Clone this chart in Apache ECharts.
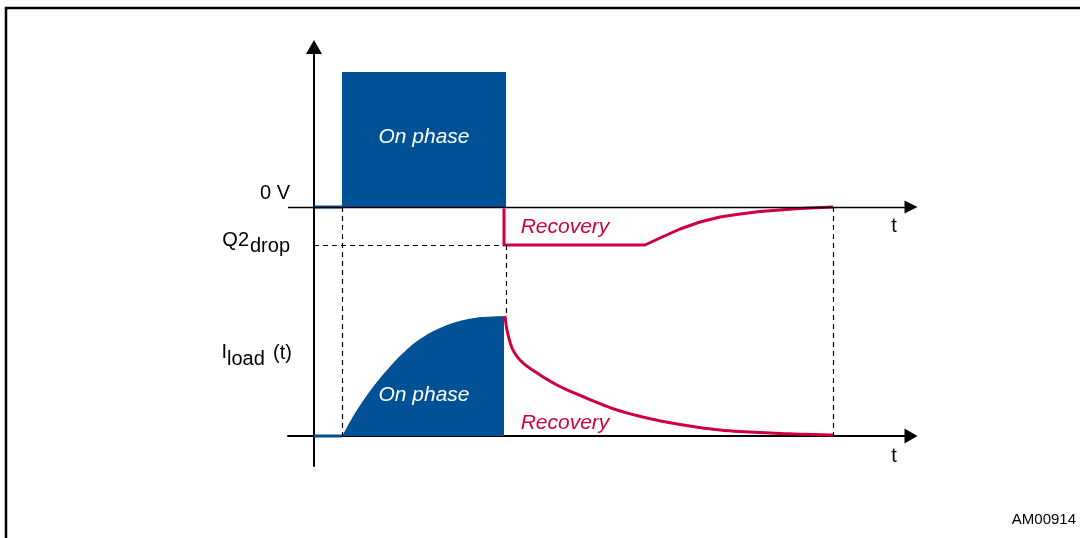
<!DOCTYPE html>
<html>
<head>
<meta charset="utf-8">
<script src="https://cdn.jsdelivr.net/npm/echarts@6/dist/echarts.min.js"></script>
<style>
  html, body { margin: 0; padding: 0; background: #fff; }
  #chart { width: 1080px; height: 538px; }
</style>
</head>
<body>
<div id="chart"></div>
<script>
// time markers, same time units for both traces
const onStart = 2.8
const onEnd = 19.2
const recoveryEnd = 51.9
const idleTime = [0, onStart]

// upper trace: Q2 voltage, relative to 0 V
const pulseHeight = 13.5
const q2Drop = -3.8
const q2Time = [19.0, 19.0, 33.1, 34.6, 36.6, 38.6, 40.6, 42.6, 44.6, 46.6, 48.6, 51.9]
const q2Volt = [-0.15, -3.8, -3.8, -3.1, -2.2, -1.5, -1.0, -0.7, -0.45, -0.3, -0.15, 0]

// lower trace: load current
const onTime = [2.8, 4.3, 5.9, 7.3, 8.8, 10.6, 13.3, 16.0, 19.0]
const onLoad = [0, 2.6, 4.9, 6.6, 8.2, 9.7, 11.1, 11.8, 12.0]
const recTime = [19.1, 19.3, 19.9, 20.8, 22.3, 24.5, 27.0, 30.0, 33.3, 36.6, 40.6, 46.6, 51.9]
const recLoad = [12.0, 10.6, 8.6, 7.4, 6.3, 5.0, 3.9, 2.7, 1.8, 1.15, 0.6, 0.25, 0.1]

const X_MIN = -2.6
const X_MAX = 59.7
const VOLT_LANE = 22.9 // where the 0 V line of the upper trace sits
const BLUE = '#005196'
const RED = '#d0003c'
const FONT = '"Liberation Sans", Arial, Helvetica, sans-serif'

const lane = (v) => v + VOLT_LANE
const pairs = (xs, ys, off = 0) => xs.map((x, i) => [x, ys[i] + off])

// centripetal catmull-rom through pixel points, so the curves stay round
function spline(pts, steps = 12) {
  const dist = (a, b) => Math.hypot(b[0] - a[0], b[1] - a[1]) || 1e-6
  const mix = (a, b, ta, tb, t) => [
    (a[0] * (tb - t) + b[0] * (t - ta)) / (tb - ta),
    (a[1] * (tb - t) + b[1] * (t - ta)) / (tb - ta)
  ]
  const out = [pts[0]]
  for (let i = 0; i < pts.length - 1; i++) {
    const p1 = pts[i]
    const p2 = pts[i + 1]
    const p0 = pts[i - 1] || [2 * p1[0] - p2[0], 2 * p1[1] - p2[1]]
    const p3 = pts[i + 2] || [2 * p2[0] - p1[0], 2 * p2[1] - p1[1]]
    const t0 = 0
    const t1 = t0 + Math.sqrt(dist(p0, p1))
    const t2 = t1 + Math.sqrt(dist(p1, p2))
    const t3 = t2 + Math.sqrt(dist(p2, p3))
    for (let s = 1; s <= steps; s++) {
      const t = t1 + (t2 - t1) * s / steps
      const a1 = mix(p0, p1, t0, t1, t)
      const a2 = mix(p1, p2, t1, t2, t)
      const a3 = mix(p2, p3, t2, t3, t)
      const b1 = mix(a1, a2, t0, t2, t)
      const b2 = mix(a2, a3, t1, t3, t)
      out.push(mix(b1, b2, t1, t2, t))
    }
  }
  return out
}

function curveSeries(name, xs, ys, filled, color) {
  const data = pairs(xs, ys)
  return {
    name,
    type: 'custom',
    data,
    renderItem(params, api) {
      if (params.dataIndex !== 0) return null
      const line = spline(data.map((d) => api.coord(d)))
      if (filled) {
        const base = [api.coord([xs[xs.length - 1], 0]), api.coord([xs[0], 0])]
        return { type: 'polygon', shape: { points: line.concat(base) }, style: { fill: color } }
      }
      return {
        type: 'polyline',
        shape: { points: line },
        style: { stroke: color, lineWidth: 3, fill: null, lineJoin: 'round' }
      }
    }
  }
}

const hiddenBits = {
  splitLine: { show: false },
  axisTick: { show: false },
  axisLabel: { show: false }
}

const option = {
  animation: false,
  grid: { left: 288, right: 169, top: 47, bottom: 72 },
  xAxis: {
    type: 'value',
    min: X_MIN,
    max: X_MAX,
    ...hiddenBits,
    axisLine: {
      show: true,
      onZero: true,
      symbol: ['none', 'triangle'],
      symbolSize: [15, 13],
      lineStyle: { color: '#000', width: 2 }
    }
  },
  yAxis: {
    type: 'value',
    min: -3,
    max: 38.9,
    ...hiddenBits,
    axisLine: {
      show: true,
      onZero: true,
      symbol: ['none', 'triangle'],
      symbolSize: [16, 14],
      lineStyle: { color: '#000', width: 2 }
    }
  },
  series: [
    {
      name: 'on pulse',
      type: 'custom',
      renderItem(params, api) {
        const a = api.coord([api.value(0), lane(api.value(2))])
        const b = api.coord([api.value(1), lane(0)])
        return {
          type: 'rect',
          shape: { x: a[0], y: a[1], width: b[0] - a[0], height: b[1] - a[1] },
          style: { fill: BLUE }
        }
      },
      data: [[onStart, onEnd, pulseHeight]],
      markLine: {
        silent: true,
        symbol: 'none',
        label: { show: false },
        lineStyle: { color: '#000', width: 1.2, type: [5, 4] },
        data: [
          [{ coord: [onStart, lane(0)] }, { coord: [onStart, 0] }],
          [{ coord: [onEnd, lane(q2Drop)] }, { coord: [onEnd, onLoad[onLoad.length - 1]] }],
          [{ coord: [recoveryEnd, lane(0)] }, { coord: [recoveryEnd, 0] }],
          [{ coord: [0, lane(q2Drop)] }, { coord: [q2Time[0], lane(q2Drop)] }]
        ]
      }
    },
    {
      name: 'q2 recovery',
      type: 'line',
      data: pairs(q2Time, q2Volt, VOLT_LANE),
      symbol: 'none',
      lineStyle: { color: RED, width: 3, join: 'round' },
      markLine: {
        silent: true,
        symbol: ['none', 'triangle'],
        symbolSize: 13,
        label: { show: false },
        lineStyle: { color: '#000', width: 1.3, type: 'solid' },
        data: [[{ coord: [X_MIN, lane(0)] }, { coord: [X_MAX, lane(0)] }]]
      }
    },
    {
      name: 'q2 idle',
      type: 'line',
      data: pairs(idleTime, [0, 0], VOLT_LANE),
      symbol: 'none',
      lineStyle: { color: BLUE, width: 3 }
    },
    {
      name: 'load idle',
      type: 'line',
      data: pairs(idleTime, [0, 0]),
      symbol: 'none',
      lineStyle: { color: BLUE, width: 3 }
    },
    curveSeries('load on', onTime, onLoad, true, BLUE),
    curveSeries('load recovery', recTime, recLoad, false, RED)
  ]
}

const chart = echarts.init(document.getElementById('chart'))
chart.setOption(option)

const at = (x, y) => chart.convertToPixel({ gridIndex: 0 }, [x, y])

function label(text, pos, extra) {
  return {
    type: 'text',
    x: pos[0],
    y: pos[1],
    z: 100,
    silent: true,
    style: Object.assign({
      text,
      fill: '#000',
      fontSize: 20,
      fontFamily: FONT,
      align: 'center',
      verticalAlign: 'middle'
    }, extra)
  }
}

const zeroV = at(X_MIN, lane(1.4))
const q = at(X_MIN, lane(q2Drop))
const il = at(X_MIN, 8.3)
const right = { align: 'right' }
const left = { align: 'left' }
const onText = { fill: '#fff', fontSize: 21, fontStyle: 'italic' }
const recText = { fill: RED, fontSize: 21, fontStyle: 'italic' }

chart.setOption({
  graphic: [
    {
      type: 'rect',
      silent: true,
      shape: { x: 6, y: 8, width: 1200, height: 700 },
      style: { fill: 'none', stroke: '#000', lineWidth: 2.5 }
    },
    label('0 V', [zeroV[0] + 2, zeroV[1]], right),
    label('Q2', [q[0] - 39, q[1] - 5], right),
    label('drop', [q[0] - 38, q[1] + 1], left),
    label('I', [il[0] - 61, il[1] - 1], right),
    label('load', [il[0] - 61, il[1] + 6], left),
    label('(t)', [il[0] - 15, il[1]], left),
    label('t', at(58.0, lane(-1.9))),
    label('t', at(58.0, -2.0)),
    label('On phase', at(11.0, lane(7.0)), onText),
    label('On phase', at(11.0, 4.1), onText),
    label('Recovery', at(25.1, lane(-2.0)), recText),
    label('Recovery', at(25.1, 1.3), recText),
    label('AM00914', [1076, 520], { align: 'right', fontSize: 15 })
  ]
})
</script>
</body>
</html>
